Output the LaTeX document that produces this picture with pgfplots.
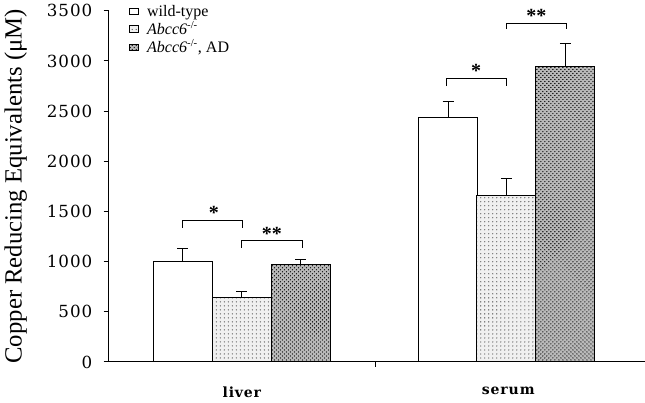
\documentclass[border=0pt]{standalone}
\usepackage{fontspec}
\setmainfont{Liberation Serif}
\newfontfamily\tickfont[LetterSpace=6]{DejaVu Serif}
\usepackage{pgfplots}
\pgfplotsset{compat=1.18}
\usetikzlibrary{patterns}

\pgfplotsset{
  mybar/.style={
    ybar, bar width=59, bar shift=0pt, draw=black, line width=0.75pt,
    legend image code/.code={\draw[##1, line width=0.5pt] (2pt,-2.3pt) rectangle (8.5pt,2.3pt); \path (13pt,0pt);},
    error bars/y dir=plus, error bars/y explicit,
    error bars/error bar style={line width=0.75pt, black},
    error bars/error mark options={rotate=90, mark size=4.1pt, line width=0.75pt, black},
  },
}

\begin{document}
\begin{tikzpicture}
\begin{axis}[
  scale only axis,
  width=401.25pt, height=263pt,
  xmin=110, xmax=645,
  ymin=0, ymax=3500,
  axis lines*=left,
  axis line style={line width=0.75pt},
  ytick={0,500,...,3500},
  tick align=outside,
  major tick length=3.75pt,
  tick style={line width=0.75pt, black},
  xtick={376}, xticklabels={},
  extra x ticks={243,509},
  extra x tick labels={liver,serum},
  extra x tick style={major tick length=0pt},
  xticklabel style={font=\tickfont\bfseries\fontsize{10.5}{12}\selectfont, yshift=-15pt},
  yticklabel style={font=\tickfont\fontsize{12.5}{14}\selectfont, xshift=-5pt},
  /pgf/number format/assume math mode=true,
  /pgf/number format/1000 sep={},
  ylabel={Copper Reducing Equivalents (μM)},
  ylabel style={font=\fontsize{18.5}{20}\selectfont, yshift=8pt},
  legend style={at={(rel axis cs:0,1)}, anchor=north west, xshift=15pt, yshift=6.5pt,
    draw=none, fill=none, font=\fontsize{12}{13}\selectfont, row sep=-1.5pt,
    inner sep=0pt, cells={anchor=west}},
  clip=false,
]
\addplot[mybar, fill=white]
  coordinates {(184,1000) +- (0,133) (449,2440) +- (0,160)};
\addlegendentry{wild-type}
\addplot[mybar, fill=gray!12, postaction={pattern=dots, pattern color=gray!70!black}]
  coordinates {(243,645) +- (0,55) (507,1660) +- (0,170)};
\addlegendentry{\textit{Abcc6}\textsuperscript{-/-}}
\addplot[mybar, fill=gray!55, postaction={pattern=crosshatch dots, pattern color=black}]
  coordinates {(302,970) +- (0,55) (566,2945) +- (0,225)};
\addlegendentry{\textit{Abcc6}\textsuperscript{-/-}, AD}

% significance brackets
\draw[line width=0.6pt] (axis cs:184,1337) |- (axis cs:244,1410) -- (axis cs:244,1337);
\node[anchor=base, font=\bfseries\fontsize{15}{15}\selectfont] at (axis cs:215,1415) {*};
\draw[line width=0.6pt] (axis cs:243,1137) |- (axis cs:303,1207) -- (axis cs:303,1137);
\node[anchor=base, font=\bfseries\fontsize{15}{15}\selectfont] at (axis cs:273,1212) {**};
\draw[line width=0.6pt] (axis cs:447,2750) |- (axis cs:507,2827) -- (axis cs:507,2750);
\node[anchor=base, font=\bfseries\fontsize{15}{15}\selectfont] at (axis cs:477,2832) {*};
\draw[line width=0.6pt] (axis cs:507,3317) |- (axis cs:567,3377) -- (axis cs:567,3317);
\node[anchor=base, font=\bfseries\fontsize{15}{15}\selectfont] at (axis cs:537,3382) {**};
\end{axis}
\end{tikzpicture}
\end{document}
